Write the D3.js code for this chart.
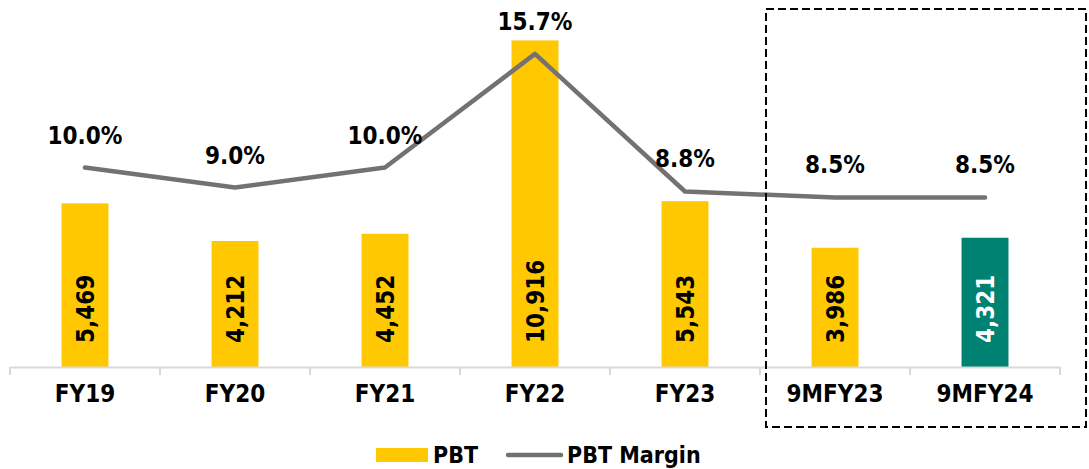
<html>
<head>
    <script src="https://d3js.org/d3.v7.min.js"></script>
    <style>
        body { margin: 0; background: #fff; }
        svg { font-family: "DejaVu Sans Condensed", "DejaVu Sans", sans-serif; font-stretch: condensed; font-weight: bold; }
        .lbl { font-size: 24px; fill: #000; }
        .leg { font-size: 23px; fill: #000; }
    </style>
</head>
<body>
<div id="chart"></div>
<script>
    // data
    var categories = ["FY19", "FY20", "FY21", "FY22", "FY23", "9MFY23", "9MFY24"];
    var pbt = [5469, 4212, 4452, 10916, 5543, 3986, 4321];
    var margin = [10.0, 9.0, 10.0, 15.7, 8.8, 8.5, 8.5];
    var barColors = ["#FFC800", "#FFC800", "#FFC800", "#FFC800", "#FFC800", "#FFC800", "#008272"];
    var boxed = ["9MFY23", "9MFY24"];

    var width = 1089, height = 469;
    var plotLeft = 10, plotRight = 1060, plotTop = 8, plotBottom = 367;

    var svg = d3.select("#chart").append("svg")
        .attr("width", width)
        .attr("height", height);

    /* Scales */
    var x0 = d3.scaleBand().domain(categories).range([plotLeft, plotRight]);
    var x = d3.scaleBand().domain(categories).range([plotLeft, plotRight])
        .paddingInner(0.687).paddingOuter(0.3435);
    var y = d3.scaleLinear().domain([0, 12000]).range([plotBottom, plotTop]);
    var y2 = d3.scaleLinear().domain([0, 18]).range([plotBottom, plotTop]);

    /* Bars */
    svg.append("g").selectAll("rect")
        .data(pbt).enter()
        .append("rect")
        .attr("x", (d, i) => x(categories[i]))
        .attr("y", d => y(d))
        .attr("width", x.bandwidth())
        .attr("height", d => y(0) - y(d))
        .attr("fill", (d, i) => barColors[i]);

    /* Bar labels (rotated, inside base) */
    svg.append("g").selectAll("text")
        .data(pbt).enter()
        .append("text")
        .attr("class", "lbl")
        .attr("transform", (d, i) => `translate(${x0(categories[i]) + x0.bandwidth() / 2}, ${y(0) - 24}) rotate(-90)`)
        .attr("dy", "0.36em")
        .attr("text-anchor", "start")
        .style("fill", (d, i) => i === pbt.length - 1 ? "#fff" : "#000")
        .text(d => d3.format(",")(d));

    /* X axis */
    var xAxis = svg.append("g")
        .attr("transform", `translate(0, ${plotBottom})`)
        .call(d3.axisBottom(x0).tickSize(0).tickPadding(18))
        .attr("font-family", null)
        .attr("font-size", null);
    xAxis.select(".domain").attr("stroke", "#D9D9D9").attr("stroke-width", 2);
    xAxis.selectAll("text").attr("class", "lbl");

    var bounds = categories.map(c => x0(c)).concat([x0(categories[categories.length - 1]) + x0.bandwidth()]);
    xAxis.selectAll(".bound")
        .data(bounds).enter()
        .append("line")
        .attr("x1", d => d).attr("x2", d => d)
        .attr("y1", 0).attr("y2", 8)
        .attr("stroke", "#D9D9D9").attr("stroke-width", 2);

    /* Margin line */
    var line = d3.line()
        .x((d, i) => x0(categories[i]) + x0.bandwidth() / 2)
        .y(d => y2(d));

    svg.append("path")
        .datum(margin)
        .attr("d", line)
        .attr("fill", "none")
        .attr("stroke", "#767171")
        .attr("stroke-width", 4.5)
        .attr("stroke-linecap", "round")
        .attr("stroke-linejoin", "round");

    svg.append("g").selectAll("text")
        .data(margin).enter()
        .append("text")
        .attr("class", "lbl")
        .attr("x", (d, i) => x0(categories[i]) + x0.bandwidth() / 2)
        .attr("y", d => y2(d) - 24)
        .attr("text-anchor", "middle")
        .text(d => d.toFixed(1) + "%");

    /* Dashed box round the 9M periods */
    var bx = x0(boxed[0]) + 6;
    svg.append("rect")
        .attr("x", bx)
        .attr("y", 9)
        .attr("width", width - 3 - bx)
        .attr("height", 418)
        .attr("fill", "none")
        .attr("stroke", "#000")
        .attr("stroke-width", 2)
        .attr("stroke-dasharray", "8,4");

    /* Legend */
    var legend = svg.append("g").attr("transform", "translate(376, 455)");
    legend.append("rect")
        .attr("x", 0).attr("y", -7)
        .attr("width", 52).attr("height", 14)
        .attr("fill", barColors[0]);
    legend.append("text")
        .attr("class", "leg")
        .attr("x", 57).attr("dy", "0.36em")
        .text("PBT");
    legend.append("line")
        .attr("x1", 132).attr("x2", 185)
        .attr("stroke", "#767171")
        .attr("stroke-width", 4.5)
        .attr("stroke-linecap", "round");
    legend.append("text")
        .attr("class", "leg")
        .attr("x", 191).attr("dy", "0.36em")
        .text("PBT Margin");
</script>
</body>
</html>
